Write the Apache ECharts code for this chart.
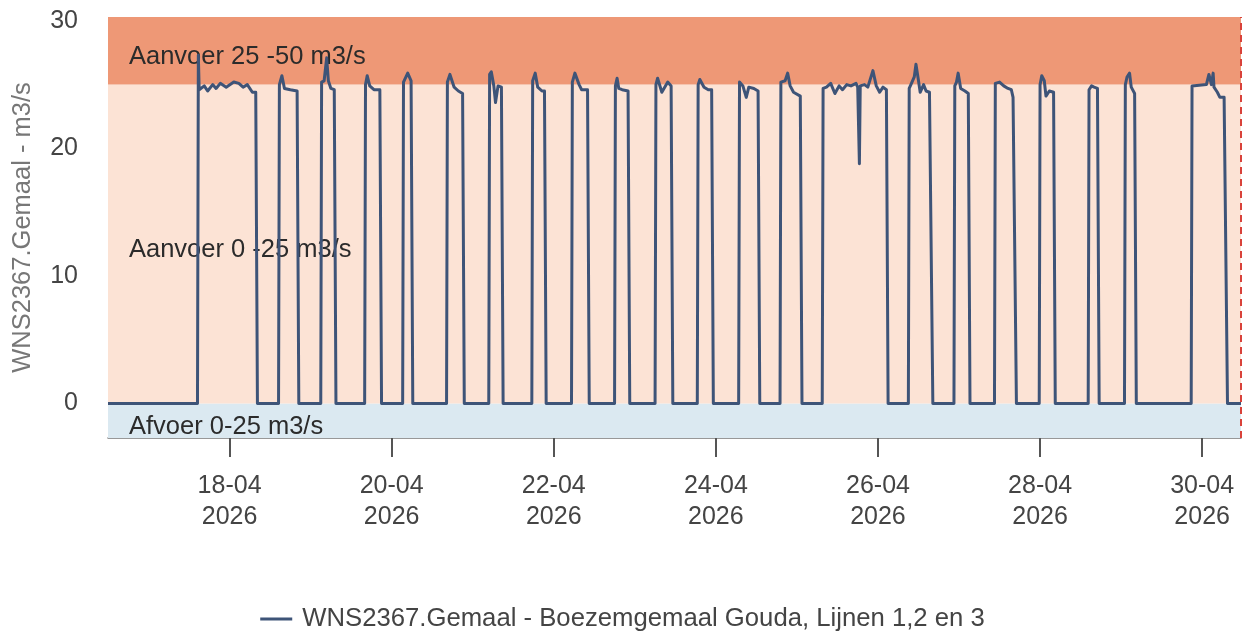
<!DOCTYPE html>
<html>
<head>
<meta charset="utf-8">
<script src="https://cdn.jsdelivr.net/npm/echarts@6/dist/echarts.min.js"></script>
<style>
html,body{margin:0;padding:0;background:#fff;}
#chart{width:1245px;height:632px;}
</style>
</head>
<body>
<div id="chart"></div>
<script>
// Time stamps (local time) and pumped flow (m3/s)
const times = [
 '2026-04-16 12:00','2026-04-17 14:30','2026-04-17 14:45','2026-04-17 15:00','2026-04-17 16:30','2026-04-17 17:30','2026-04-17 19:00','2026-04-17 20:00','2026-04-17 21:15','2026-04-17 23:00','2026-04-18 01:15','2026-04-18 02:45','2026-04-18 04:00','2026-04-18 05:15','2026-04-18 06:45','2026-04-18 07:45','2026-04-18 08:15',
 '2026-04-18 14:30','2026-04-18 14:45','2026-04-18 15:30','2026-04-18 16:15','2026-04-18 18:00','2026-04-18 20:00','2026-04-18 20:30',
 '2026-04-19 03:00','2026-04-19 03:15','2026-04-19 04:00','2026-04-19 04:45','2026-04-19 05:15','2026-04-19 06:00','2026-04-19 07:00','2026-04-19 07:30',
 '2026-04-19 16:00','2026-04-19 16:15','2026-04-19 16:45','2026-04-19 17:30','2026-04-19 18:45','2026-04-19 20:30','2026-04-19 21:00',
 '2026-04-20 03:15','2026-04-20 03:30','2026-04-20 04:45','2026-04-20 05:45','2026-04-20 06:15',
 '2026-04-20 16:15','2026-04-20 16:30','2026-04-20 17:15','2026-04-20 18:30','2026-04-20 19:45','2026-04-20 21:00','2026-04-20 21:30',
 '2026-04-21 04:45','2026-04-21 05:00','2026-04-21 05:30','2026-04-21 06:15','2026-04-21 06:45','2026-04-21 07:30','2026-04-21 08:30','2026-04-21 09:00',
 '2026-04-21 17:30','2026-04-21 17:45','2026-04-21 18:30','2026-04-21 19:15','2026-04-21 20:30','2026-04-21 21:15','2026-04-21 21:45',
 '2026-04-22 05:15','2026-04-22 05:30','2026-04-22 06:15','2026-04-22 07:30','2026-04-22 08:15','2026-04-22 10:00','2026-04-22 10:30',
 '2026-04-22 18:00','2026-04-22 18:15','2026-04-22 18:45','2026-04-22 19:15','2026-04-22 20:15','2026-04-22 22:00','2026-04-22 22:30',
 '2026-04-23 06:00','2026-04-23 06:15','2026-04-23 06:45','2026-04-23 08:00','2026-04-23 09:45','2026-04-23 10:45','2026-04-23 11:15',
 '2026-04-23 18:30','2026-04-23 18:45','2026-04-23 19:15','2026-04-23 20:30','2026-04-23 21:45','2026-04-23 22:45','2026-04-23 23:15',
 '2026-04-24 06:45','2026-04-24 07:00','2026-04-24 08:00','2026-04-24 09:00','2026-04-24 09:45','2026-04-24 11:15','2026-04-24 12:30','2026-04-24 13:00',
 '2026-04-24 19:00','2026-04-24 19:15','2026-04-24 20:30','2026-04-24 21:15','2026-04-24 22:00','2026-04-24 23:00','2026-04-25 01:00','2026-04-25 01:30',
 '2026-04-25 07:30','2026-04-25 07:45','2026-04-25 08:45','2026-04-25 10:00','2026-04-25 11:15','2026-04-25 12:30','2026-04-25 13:30','2026-04-25 14:45','2026-04-25 16:00','2026-04-25 17:30','2026-04-25 18:00','2026-04-25 18:30','2026-04-25 18:45','2026-04-25 20:00','2026-04-25 21:00','2026-04-25 22:30','2026-04-25 23:30','2026-04-26 00:30','2026-04-26 01:30','2026-04-26 02:30','2026-04-26 03:00',
 '2026-04-26 09:00','2026-04-26 09:15','2026-04-26 09:45','2026-04-26 10:45','2026-04-26 11:15','2026-04-26 12:00','2026-04-26 12:30','2026-04-26 13:30','2026-04-26 14:15','2026-04-26 15:15','2026-04-26 15:45','2026-04-26 16:15',
 '2026-04-26 22:30','2026-04-26 22:45','2026-04-26 23:15','2026-04-26 23:45','2026-04-27 00:30','2026-04-27 01:45','2026-04-27 02:45','2026-04-27 03:15',
 '2026-04-27 10:30','2026-04-27 10:45','2026-04-27 12:00','2026-04-27 13:15','2026-04-27 14:30','2026-04-27 15:30','2026-04-27 16:00','2026-04-27 16:30','2026-04-27 17:00',
 '2026-04-27 23:45','2026-04-28 00:00','2026-04-28 00:30','2026-04-28 01:15','2026-04-28 01:45','2026-04-28 02:45','2026-04-28 04:00','2026-04-28 04:30',
 '2026-04-28 14:15','2026-04-28 14:30','2026-04-28 15:15','2026-04-28 16:00','2026-04-28 17:00','2026-04-28 17:30',
 '2026-04-29 01:00','2026-04-29 01:15','2026-04-29 01:45','2026-04-29 02:30','2026-04-29 03:00','2026-04-29 04:00','2026-04-29 04:30',
 '2026-04-29 20:45','2026-04-29 21:00','2026-04-30 01:15','2026-04-30 02:00','2026-04-30 02:45','2026-04-30 03:15','2026-04-30 03:30','2026-04-30 04:30','2026-04-30 05:15','2026-04-30 06:30','2026-04-30 07:30','2026-04-30 11:30'
];
const flow = [
 0,0,27.3,24.6,24.9,24.5,25.0,24.7,25.1,24.8,25.2,25.1,24.8,25.0,24.4,24.4,0,
 0,25.0,25.7,24.7,24.6,24.5,0,
 0,25.2,25.3,27.1,25.3,24.7,24.6,0,
 0,25.0,25.7,24.9,24.6,24.6,0,
 0,25.2,25.9,25.3,0,
 0,25.2,25.8,24.8,24.5,24.3,0,
 0,25.8,26.0,24.9,23.6,24.9,24.8,0,
 0,25.3,25.9,24.8,24.5,24.5,0,
 0,25.2,25.9,25.0,24.6,24.6,0,
 0,24.9,25.5,24.7,24.6,24.5,0,
 0,25.0,25.5,24.4,25.2,24.9,0,
 0,25.0,25.4,24.8,24.6,24.6,0,
 0,25.2,24.9,24.0,24.8,24.7,24.5,0,
 0,25.2,25.3,25.9,24.9,24.4,24.1,0,
 0,24.7,24.8,25.1,24.3,24.9,24.6,25.0,24.9,25.1,24.8,18.8,24.9,25.0,24.8,26.1,24.9,24.4,24.8,24.6,0,
 0,24.7,25.0,25.6,26.6,25.3,24.4,25.0,24.5,24.4,24.3,0,
 0,24.9,25.2,25.9,24.7,24.5,24.3,0,
 0,25.1,25.2,24.9,24.7,24.6,24.0,24.0,0,
 0,25.0,25.7,25.3,24.1,24.5,24.4,0,
 0,24.6,24.9,24.8,24.7,0,
 0,25.0,25.6,25.9,24.8,24.3,0,
 0,24.9,25.0,25.8,25.0,25.9,24.8,24.4,24.0,24.0,0,0
];

// Axis ticks and range
const xMin = '2026-04-16 12:00';
const xMax = '2026-04-30 11:30';
const xTickDates = ['2026-04-18','2026-04-20','2026-04-22','2026-04-24','2026-04-26','2026-04-28','2026-04-30'];
const yTicks = [0, 10, 20, 30];

// Flow class bands
const bandFrom = [-25, 0, 25];
const bandTo = [0, 25, 50];
const bandNames = ['Afvoer 0-25 m3/s', 'Aanvoer 0 -25 m3/s', 'Aanvoer 25 -50 m3/s'];
const bandColors = ['#dbe9f1', '#fce3d5', '#ee9876'];

const seriesName = 'WNS2367.Gemaal - Boezemgemaal Gouda, Lijnen 1,2 en 3';
const nowLine = '2026-04-30 11:30';

const FONT = "'Liberation Sans', Arial, sans-serif";

// parse 'YYYY-MM-DD[ HH:mm]' as local time
function toMs(s) {
  const p = s.split(/[- :]/).map(Number);
  return new Date(p[0], p[1] - 1, p[2], p[3] || 0, p[4] || 0).getTime();
}
function pad(n){ return (n < 10 ? '0' : '') + n; }

const chart = echarts.init(document.getElementById('chart'), null, {renderer: 'canvas'});

const option = {
  animation: false,
  textStyle: {fontFamily: FONT},
  grid: {left: 108, right: 4, top: 17, bottom: 194, containLabel: false},
  legend: {
    top: 601,
    left: 'center',
    data: [{name: seriesName, icon: 'rect'}],
    itemWidth: 32,
    itemHeight: 3,
    textStyle: {fontSize: 25.7, color: '#444', fontFamily: FONT, padding: [0, 0, 0, 5]}
  },
  xAxis: {
    type: 'value',
    min: toMs(xMin),
    max: toMs(xMax),
    axisLine: {show: true, onZero: false, lineStyle: {color: '#777', width: 1.5}},
    axisTick: {show: true, length: 19, customValues: xTickDates.map(toMs), lineStyle: {color: '#555', width: 2}},
    splitLine: {show: false},
    axisLabel: {
      customValues: xTickDates.map(toMs),
      margin: 33,
      fontSize: 25,
      lineHeight: 31,
      color: '#444',
      fontFamily: FONT,
      formatter: function (v) {
        const d = new Date(v);
        return pad(d.getDate()) + '-' + pad(d.getMonth() + 1) + '\n' + d.getFullYear();
      }
    }
  },
  yAxis: {
    type: 'value',
    min: -2.7,
    max: 30.3,
    name: 'WNS2367.Gemaal - m3/s',
    nameLocation: 'middle',
    nameGap: 72,
    nameTextStyle: {fontSize: 25.5, color: '#777', fontFamily: FONT},
    axisLine: {show: false},
    axisTick: {show: false},
    splitLine: {show: false},
    axisLabel: {customValues: yTicks, margin: 30, fontSize: 25, color: '#444', fontFamily: FONT}
  },
  series: [
    {
      name: 'bands',
      type: 'line',
      data: [],
      z: 1,
      silent: true,
      markArea: {
        silent: true,
        data: bandFrom.map((f, i) => [
          {yAxis: f, name: bandNames[i], itemStyle: {color: bandColors[i], opacity: 1}},
          {yAxis: bandTo[i]}
        ]),
        label: {
          show: true,
          position: 'insideLeft',
          distance: 21,
          offset: [0, 6],
          fontSize: 25.5,
          color: '#2b2b2b',
          fontFamily: FONT
        }
      },
      markLine: {
        silent: true,
        symbol: ['none', 'none'],
        label: {show: false},
        lineStyle: {color: '#d9423a', type: [7, 5], width: 2},
        data: [{xAxis: toMs(nowLine)}]
      }
    },
    {
      name: seriesName,
      type: 'line',
      z: 3,
      showSymbol: false,
      symbol: 'none',
      data: times.map((t, i) => [toMs(t), flow[i]]),
      lineStyle: {color: '#3e5478', width: 3, join: 'round'},
      itemStyle: {color: '#3e5478'}
    }
  ]
};
chart.setOption(option);
</script>
</body>
</html>
